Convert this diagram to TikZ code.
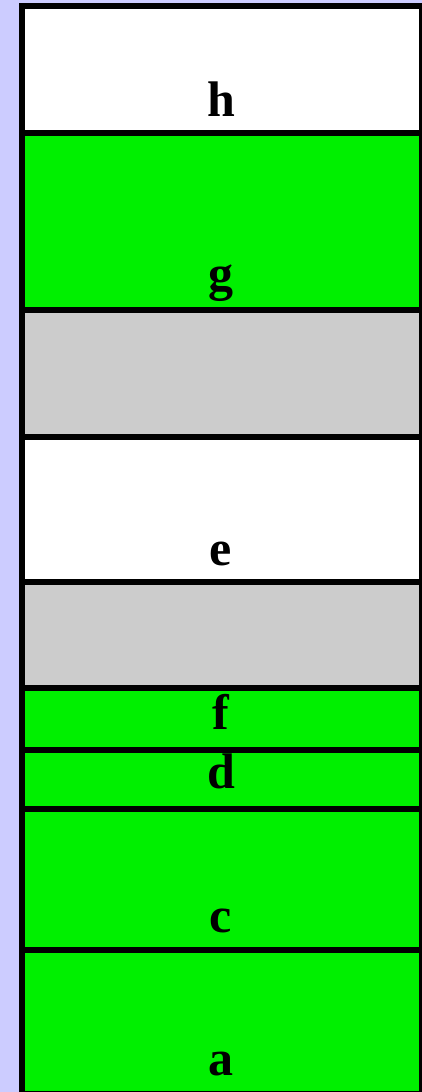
\documentclass[tikz,border=0pt]{standalone}
\usepackage{fontspec}
\setmainfont{Liberation Serif}
\definecolor{lav}{RGB}{204,204,255}
\definecolor{grn}{RGB}{0,240,0}
\definecolor{gry}{RGB}{204,204,204}
\tikzset{
  band/.style={draw=black, line width=6pt},
  lbl/.style={font=\fontsize{50}{50}\selectfont\bfseries, anchor=base, inner sep=0pt, text=black}
}
\begin{document}
\begin{tikzpicture}[x=1pt,y=-1pt]
\useasboundingbox (0,0) rectangle (422,1092);
\fill[lav] (0,0) rectangle (422,1092);
\draw[band, fill=white] (22,5.5) rectangle (421.7,133);
\draw[band, fill=grn] (22,133) rectangle (421.7,310);
\draw[band, fill=gry] (22,310) rectangle (421.7,437);
\draw[band, fill=white] (22,437) rectangle (421.7,582);
\draw[band, fill=gry] (22,582) rectangle (421.7,688);
\draw[band, fill=grn] (22,688) rectangle (421.7,750);
\draw[band, fill=grn] (22,750) rectangle (421.7,808.5);
\draw[band, fill=grn] (22,808.5) rectangle (421.7,950);
\draw[band, fill=grn] (22,950) rectangle (421.7,1094);
\node[lbl] (h) at (221,116) {h};
\node[lbl] (g) at (221,290) {g};
\node[lbl] (e) at (221,565) {e};
\node[lbl] (f) at (221,729) {f};
\node[lbl] (d) at (221,788) {d};
\node[lbl] (c) at (221,932) {c};
\node[lbl] (a) at (221,1075) {a};
\end{tikzpicture}
\end{document}
